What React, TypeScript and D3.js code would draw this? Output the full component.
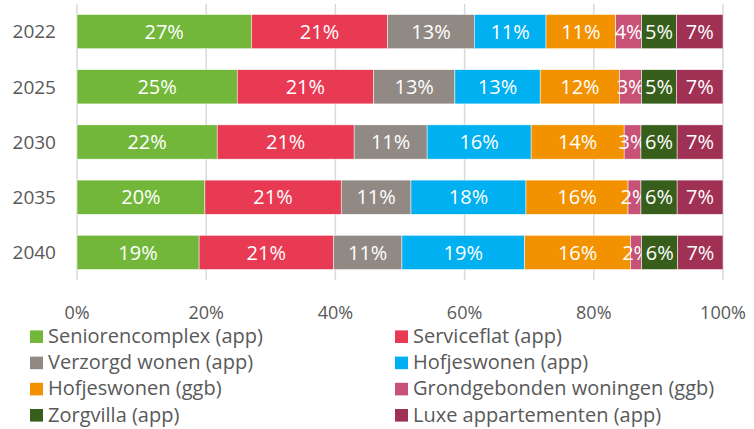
import React, { useRef, useEffect } from 'react';
import * as d3 from 'd3';

// years on the y axis
const years = ['2022', '2025', '2030', '2035', '2040'];

const categories = [
  'Seniorencomplex (app)',
  'Serviceflat (app)',
  'Verzorgd wonen (app)',
  'Hofjeswonen (app)',
  'Hofjeswonen (ggb)',
  'Grondgebonden woningen (ggb)',
  'Zorgvilla (app)',
  'Luxe appartementen (app)',
];

const colors = ['#72B73A', '#E83A53', '#918A84', '#00B0F0', '#F39200', '#C85277', '#375F1B', '#A03154'];

// share per category, one array per category (order = years)
const seniorencomplex = [27.0, 24.8, 21.7, 19.8, 18.9];
const serviceflat = [21.1, 21.1, 21.2, 21.1, 20.8];
const verzorgdWonen = [13.4, 12.6, 11.3, 10.8, 10.6];
const hofjesApp = [11.1, 13.2, 16.1, 17.8, 19.0];
const hofjesGgb = [10.8, 12.3, 14.4, 15.8, 16.4];
const grondgebonden = [4.0, 3.4, 2.6, 2.0, 1.7];
const zorgvilla = [5.4, 5.4, 5.6, 5.6, 5.6];
const luxe = [7.2, 7.2, 7.1, 7.1, 7.0];

const series = [seniorencomplex, serviceflat, verzorgdWonen, hofjesApp, hofjesGgb, grondgebonden, zorgvilla, luxe];

const xTicks = [0, 0.2, 0.4, 0.6, 0.8, 1];

const FONT = '"Open Sans", "Liberation Sans", sans-serif';

const StackedChart = () => {
  const chartRef = useRef<SVGSVGElement | null>(null);

  useEffect(() => {
    const svg = d3.select(chartRef.current);
    svg.selectAll('*').remove();

    const width = 754;
    const height = 429;
    const margin = { top: 4, right: 31, bottom: 149, left: 77 };

    // table for d3.stack, normalized to 100%
    const rows = years.map((y, i) => {
      const row: any = { year: y };
      const total = d3.sum(series, s => s[i]);
      categories.forEach((c, k) => { row[c] = series[k][i] / total; });
      return row;
    });

    const stacked = d3.stack().keys(categories)(rows);

    const xScale = d3.scaleLinear().domain([0, 1]).range([margin.left, width - margin.right]);
    const yScale = d3.scaleBand().domain(years).range([margin.top, height - margin.bottom])
      .paddingInner(0.38).paddingOuter(0.19);

    svg.attr('width', width).attr('height', height);

    // gridlines
    svg.append('g')
      .selectAll('line')
      .data(xTicks)
      .enter().append('line')
      .attr('x1', d => xScale(d))
      .attr('x2', d => xScale(d))
      .attr('y1', margin.top)
      .attr('y2', height - margin.bottom)
      .attr('stroke', '#D9D9D9')
      .attr('stroke-width', 1.5);

    // bars
    const layers = svg.append('g')
      .selectAll('g')
      .data(stacked)
      .enter().append('g')
      .attr('fill', (d, i) => colors[i]);

    layers.selectAll('rect')
      .data(d => d)
      .enter().append('rect')
      .attr('x', d => xScale(d[0]))
      .attr('y', d => yScale(d.data.year)!)
      .attr('width', d => xScale(d[1]) - xScale(d[0]))
      .attr('height', yScale.bandwidth())
      .attr('stroke', '#ffffff')
      .attr('stroke-width', 0.5);

    // value labels
    layers.selectAll('text')
      .data(d => d)
      .enter().append('text')
      .attr('x', d => (xScale(d[0]) + xScale(d[1])) / 2)
      .attr('y', d => yScale(d.data.year)! + yScale.bandwidth() / 2)
      .attr('dy', '0.36em')
      .attr('text-anchor', 'middle')
      .attr('fill', '#ffffff')
      .style('font-family', FONT)
      .style('font-size', '20px')
      .text(d => `${Math.round((d[1] - d[0]) * 100)}%`);

    // y labels
    svg.append('g')
      .selectAll('text')
      .data(years)
      .enter().append('text')
      .attr('x', 56)
      .attr('y', d => yScale(d)! + yScale.bandwidth() / 2)
      .attr('dy', '0.36em')
      .attr('text-anchor', 'end')
      .attr('fill', '#595959')
      .style('font-family', FONT)
      .style('font-size', '19px')
      .text(d => d);

    // x tick labels
    svg.append('g')
      .selectAll('text')
      .data(xTicks)
      .enter().append('text')
      .attr('x', d => xScale(d))
      .attr('y', 319)
      .attr('text-anchor', 'middle')
      .attr('fill', '#595959')
      .style('font-family', FONT)
      .style('font-size', '18px')
      .text(d => d3.format('.0%')(d));

    // legend, two columns
    const legend = svg.append('g');
    categories.forEach((c, i) => {
      const col = i % 2;
      const row = Math.floor(i / 2);
      const lx = col === 0 ? 30 : 395;
      const ly = 343 + row * 26.2;
      legend.append('rect')
        .attr('x', lx)
        .attr('y', ly - 12.6)
        .attr('width', 13)
        .attr('height', 12.6)
        .attr('fill', colors[i]);
      legend.append('text')
        .attr('x', lx + 18)
        .attr('y', ly)
        .attr('fill', '#595959')
        .style('font-family', FONT)
        .style('font-size', '20px')
        .text(c);
    });
  }, []);

  return <svg ref={chartRef} style={{ position: 'absolute', left: 0, top: 0 }} />;
};

export default function App() {
  return <StackedChart />;
}
